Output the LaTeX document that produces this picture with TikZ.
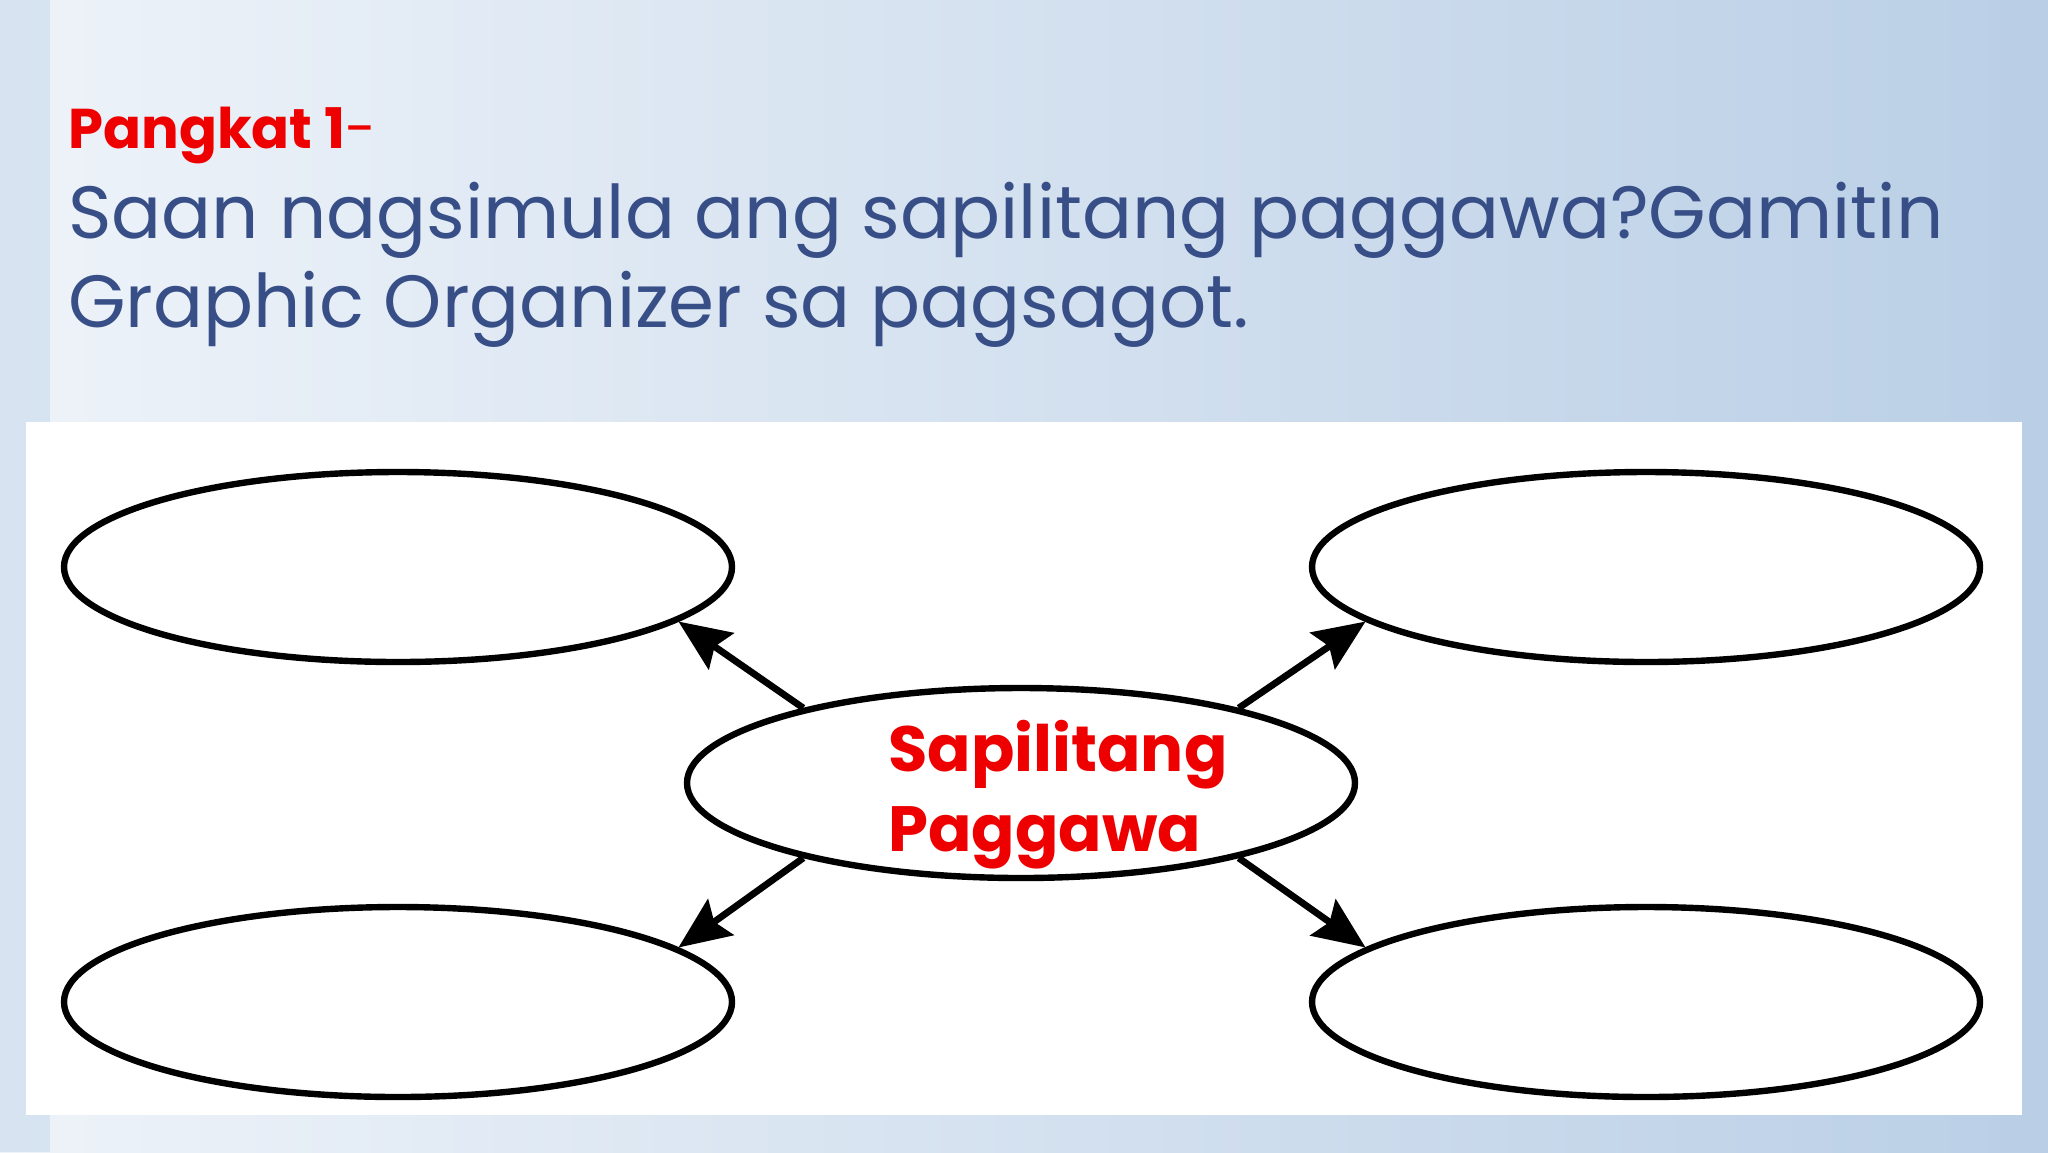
\documentclass[tikz,border=0pt]{standalone}
\usepackage{fontspec}
\setmainfont{Poppins}
\usetikzlibrary{shapes.geometric,arrows.meta,positioning}
\definecolor{slideblue}{RGB}{55,78,135}
\definecolor{titlered}{RGB}{238,0,0}
\definecolor{bgleft}{RGB}{238,243,249}
\definecolor{bgright}{RGB}{186,207,230}
\definecolor{bgstrip}{RGB}{200,217,235}

\tikzset{
  blank/.style={ellipse, draw=black, line width=3.2pt, minimum width=334pt, minimum height=95pt, inner sep=0pt},
  branch/.style={-{Stealth[length=26pt,width=22pt,inset=4pt]}, line width=3.4pt},
  slidetext/.style={anchor=base west, inner sep=0pt},
}

\begin{document}
\begin{tikzpicture}[x=0.5pt,y=-0.5pt]
\useasboundingbox (0,0) rectangle (2048,1152);
% slide background
\shade[left color=bgleft,right color=bgright] (0,0) rectangle (2048,1152);
\fill[bgstrip,opacity=0.6] (0,0) rectangle (50,1152);
\fill[bgright,opacity=0.5] (2000,0) rectangle (2048,1152);
\fill[white] (26,422) rectangle (2022,1115);

\node[slidetext, text=titlered, font=\fontsize{28}{30}\selectfont\bfseries] (group) at (68,148) {Pangkat 1\textmd{-}};
\node[slidetext, text=slideblue, font=\fontsize{37}{40}\selectfont] (question) at (68,238) {Saan nagsimula ang sapilitang paggawa?Gamitin};
\node[slidetext, text=slideblue, font=\fontsize{37}{40}\selectfont] (question2) at (68,327) {Graphic Organizer sa pagsagot.};

\node[blank] (ctr) at (1021,783) {};
\node[blank] (tl) at (398,567) {};
\node[blank] (tr) at (1646,567) {};
\node[blank] (bl) at (398,1002) {};
\node[blank] (br) at (1646,1002) {};
\node[text=titlered, font=\fontsize{32}{40}\selectfont\bfseries, align=left] (topic) at (1058,795) {Sapilitang\\Paggawa};

\draw[branch] (ctr.161) -- (tl.-11);
\draw[branch] (ctr.19) -- (tr.191);
\draw[branch] (ctr.199) -- (bl.11);
\draw[branch] (ctr.341) -- (br.169);
\end{tikzpicture}
\end{document}
